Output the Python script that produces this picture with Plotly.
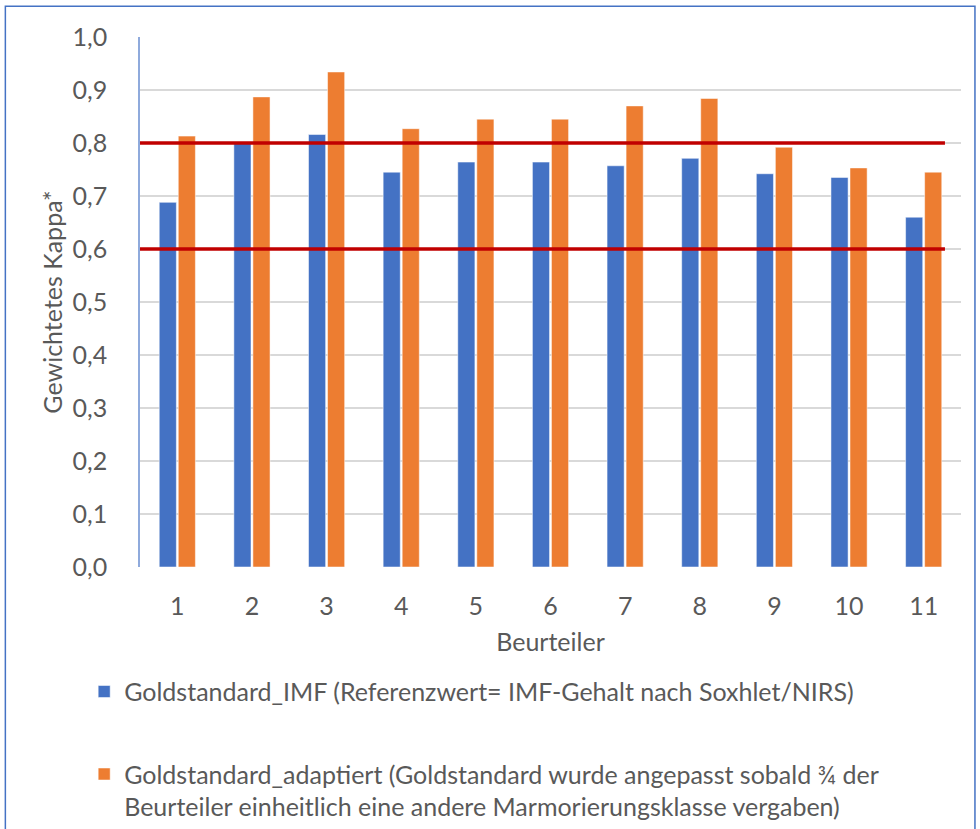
import plotly.graph_objects as go

# ── Data ────────────────────────────────────────────────────────────────────────
raters = [1, 2, 3, 4, 5, 6, 7, 8, 9, 10, 11]
kappa_imf = [0.688, 0.801, 0.816, 0.745, 0.764, 0.764, 0.757, 0.771, 0.742, 0.735, 0.660]
kappa_adapted = [0.813, 0.887, 0.934, 0.827, 0.845, 0.845, 0.870, 0.884, 0.792, 0.753, 0.745]
thresholds = [0.6, 0.8]
threshold_span = [0.5, 11.285]
y_ticks = [0.0, 0.1, 0.2, 0.3, 0.4, 0.5, 0.6, 0.7, 0.8, 0.9, 1.0]

name_imf = "Goldstandard_IMF (Referenzwert= IMF-Gehalt nach Soxhlet/NIRS)"
name_adapted = ("Goldstandard_adaptiert (Goldstandard wurde angepasst sobald ¾ der<br>"
                "Beurteiler einheitlich eine andere Marmorierungsklasse vergaben)")

FONT = "Lato, 'Open Sans', sans-serif"
TEXT = "#595959"
FS = 25

fig = go.Figure()

fig.add_trace(go.Bar(
    x=raters, y=kappa_imf, name=name_imf, legendgroup="a",
    marker=dict(color="#4472c4", line=dict(color="rgba(255,255,255,0.5)", width=1)),
))
fig.add_trace(go.Bar(
    x=raters, y=kappa_adapted, name=name_adapted, legendgroup="b",
    marker=dict(color="#ed7d31", line=dict(color="rgba(255,255,255,0.5)", width=1)),
))

# reference lines for kappa thresholds
for t in thresholds:
    fig.add_trace(go.Scatter(
        x=threshold_span, y=[t, t], mode="lines",
        line=dict(color="#c00000", width=3.5),
        showlegend=False, hoverinfo="skip",
    ))

fig.update_layout(
    width=980, height=829,
    paper_bgcolor="white", plot_bgcolor="white",
    font=dict(family=FONT, color=TEXT, size=FS),
    margin=dict(l=140, r=19, t=37, b=262, autoexpand=False),
    barmode="group", bargap=0.49, bargroupgap=0.1,
    showlegend=True,
    legend=dict(
        x=-0.068, y=-0.192, xanchor="left", yanchor="top",
        tracegroupgap=47, valign="top", itemwidth=30,
        font=dict(size=FS, color=TEXT),
    ),
    xaxis=dict(
        range=[0.5, 11.5], tickvals=raters, ticktext=[str(r) for r in raters],
        showgrid=False, zeroline=False, showline=False, ticks="",
        ticklabelstandoff=22,
        title=dict(text="Beurteiler", font=dict(size=FS, color=TEXT), standoff=14),
    ),
    yaxis=dict(
        range=[0, 1.0], tickvals=y_ticks,
        ticktext=[f"{v:.1f}".replace(".", ",") for v in y_ticks],
        showgrid=True, gridcolor="#d9d9d9", gridwidth=1.5,
        zeroline=False, showline=True, linecolor="#8faadc", linewidth=1.5,
        ticks="", ticklabelstandoff=26,
        title=dict(text="Gewichtetes Kappa*", font=dict(size=FS, color=TEXT), standoff=3),
    ),
    shapes=[dict(
        type="rect", xref="paper", yref="paper",
        x0=-0.164, x1=1.017, y0=-0.6, y1=1.058,
        line=dict(color="#4472c4", width=1.5), fillcolor="rgba(0,0,0,0)",
        layer="below",
    )],
)

fig.write_html(
    "out.html",
    config={"displayModeBar": False},
    post_script="document.body.style.margin='0';",
)
